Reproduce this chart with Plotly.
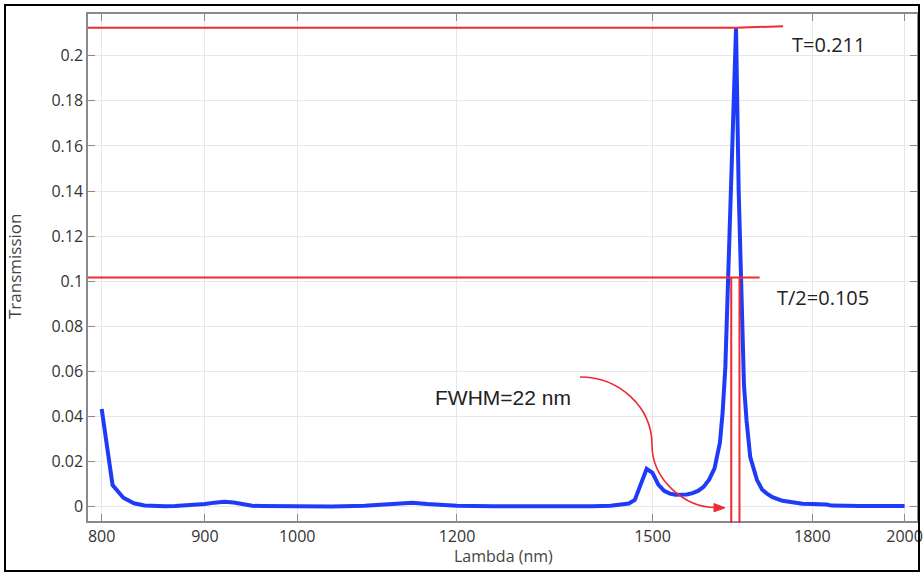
import math
import plotly.graph_objects as go

# ---------------- data ----------------
wavelength_nm = [800, 810, 820, 830, 840, 850, 860, 870, 880, 890, 900, 910, 920, 930, 940, 950,
                 960, 980, 1000, 1040, 1080, 1100, 1120, 1140, 1160, 1180, 1200, 1250, 1300, 1350,
                 1400, 1430, 1450, 1460, 1470, 1480, 1490, 1500, 1510, 1520, 1530, 1540, 1550,
                 1560, 1570, 1580, 1590, 1600, 1610, 1620, 1625, 1630, 1635, 1640, 1645, 1650,
                 1655, 1660, 1665, 1670, 1677, 1690, 1700, 1710, 1720, 1740, 1760, 1780, 1800,
                 1820, 1830, 1840, 1860, 1900, 1950, 2000]
transmission = [0.0433, 0.0096, 0.0040, 0.0015, 0.0005, 0.0002, 0.0002, 0.0003, 0.0005, 0.0008,
                0.0012, 0.0018, 0.0022, 0.0019, 0.0010, 0.0004, 0.0003, 0.0002, 0.0001, 0.0001,
                0.0004, 0.0008, 0.0015, 0.0018, 0.0012, 0.0006, 0.0004, 0.0002, 0.0001, 0.0001,
                0.0002, 0.0004, 0.0008, 0.0014, 0.0030, 0.0095, 0.0168, 0.0150, 0.0098, 0.0070,
                0.0058, 0.0053, 0.0052, 0.0054, 0.0060, 0.0070, 0.0088, 0.0120, 0.0170, 0.0285,
                0.0420, 0.0620, 0.1000, 0.1350, 0.1750, 0.2122, 0.1400, 0.0980, 0.0540, 0.0380,
                0.0220, 0.0118, 0.0075, 0.0057, 0.0042, 0.0026, 0.0018, 0.0013, 0.0012, 0.0012,
                0.0010, 0.0005, 0.0003, 0.0003, 0.0003, 0.0003]

x_tick_vals = [800, 900, 1000, 1200, 1500, 1800, 2000]
x_tick_text = ["800", "900", "1000", "1200", "1500", "1800", "2000"]
y_tick_vals = [0, 0.02, 0.04, 0.06, 0.08, 0.1, 0.12, 0.14, 0.16, 0.18, 0.2]
y_tick_text = ["0", "0.02", "0.04", "0.06", "0.08", "0.1", "0.12", "0.14", "0.16", "0.18", "0.2"]

# annotation markers (hand-drawn red guides in the picture)
peak_level = 0.2124
peak_level_end = 0.2131
peak_lambda = 1650
top_line_end = 1741
half_level = 0.1017
half_line_end = 1695
half_left = 1641
half_right = 1656.5

# ---------------- geometry ----------------
W, H = 924, 572
ML, MR, MT, MB = 88, 7, 14, 51
PW, PH = W - ML - MR, H - MT - MB
X_RANGE = [math.log10(787.6), math.log10(2028.5)]
Y_RANGE = [-0.00634, 0.2185]


def xp(lam):
    return (math.log10(lam) - X_RANGE[0]) / (X_RANGE[1] - X_RANGE[0])


def yp(v):
    return (v - Y_RANGE[0]) / (Y_RANGE[1] - Y_RANGE[0])


def px(x):
    return (x - ML) / PW


def py(y):
    return (H - MB - y) / PH


RED = "#ee2a33"
BLUE = "#1e3cf8"
AXC = "#8a8a8a"
FONT = "Open Sans"

fig = go.Figure()
fig.add_trace(go.Scatter(x=wavelength_nm, y=transmission, mode="lines",
                         line=dict(color=BLUE, width=4), showlegend=False,
                         hoverinfo="x+y"))

shapes = []
# outer frame
shapes.append(dict(type="rect", xref="paper", yref="paper",
                   x0=px(5), x1=px(919), y0=py(571), y1=py(5),
                   line=dict(color="black", width=2), fillcolor="rgba(0,0,0,0)", layer="above"))
# top red line (T)
shapes.append(dict(type="line", xref="paper", yref="paper", x0=0, x1=xp(peak_lambda),
                   y0=yp(peak_level), y1=yp(peak_level), line=dict(color=RED, width=2), layer="above"))
shapes.append(dict(type="line", xref="paper", yref="paper", x0=xp(peak_lambda), x1=xp(top_line_end),
                   y0=yp(peak_level), y1=yp(peak_level_end), line=dict(color=RED, width=2), layer="above"))
# half max line
shapes.append(dict(type="line", xref="paper", yref="paper", x0=0, x1=xp(half_line_end),
                   y0=yp(half_level), y1=yp(half_level), line=dict(color=RED, width=2), layer="above"))
# vertical lines at FWHM crossings
for lam in (half_left, half_right):
    shapes.append(dict(type="line", xref="paper", yref="paper", x0=xp(lam), x1=xp(lam),
                       y0=yp(half_level), y1=py(523), line=dict(color=RED, width=2), layer="above"))

# curved arrow (two quarter-ellipse arcs), pixel geometry -> paper
k = 0.5523
pts = [(580, 377), (580 + k * 72, 377), (652, 445 - k * 68), (652, 445),
       (652, 445 + k * 62), (684, 507.5), (716, 507.5)]
P = [(px(a), py(b)) for a, b in pts]
path = "M {0[0]},{0[1]} C {1[0]},{1[1]} {2[0]},{2[1]} {3[0]},{3[1]} C {4[0]},{4[1]} {5[0]},{5[1]} {6[0]},{6[1]}".format(*P)
shapes.append(dict(type="path", xref="paper", yref="paper", path=path,
                   line=dict(color=RED, width=1.6), layer="above"))
tri = [(725, 507.8), (714, 503.6), (714, 511.8)]
T = [(px(a), py(b)) for a, b in tri]
shapes.append(dict(type="path", xref="paper", yref="paper",
                   path="M {0[0]},{0[1]} L {1[0]},{1[1]} L {2[0]},{2[1]} Z".format(*T),
                   fillcolor=RED, line=dict(color=RED, width=1), layer="above"))

annotations = [
    dict(text="T=0.211", xref="paper", yref="paper", x=px(790), y=py(45), xanchor="left",
         yanchor="middle", showarrow=False, font=dict(family=FONT, size=20, color="#222")),
    dict(text="T/2=0.105", xref="paper", yref="paper", x=px(775), y=py(297), xanchor="left",
         yanchor="middle", showarrow=False, font=dict(family=FONT, size=20, color="#222")),
    dict(text="FWHM=22 nm", xref="paper", yref="paper", x=px(433), y=py(397), xanchor="left",
         yanchor="middle", showarrow=False, font=dict(family="Liberation Sans", size=21, color="#222")),
    dict(text="Lambda (nm)", xref="paper", yref="paper", x=px(503), y=py(556), xanchor="center",
         yanchor="middle", showarrow=False, font=dict(family=FONT, size=16, color="#444")),
    dict(text="Transmission", xref="paper", yref="paper", x=px(14), y=py(267), xanchor="center",
         yanchor="middle", textangle=-90, showarrow=False,
         font=dict(family=FONT, size=17, color="#444")),
]

axis_common = dict(showline=True, linecolor=AXC, linewidth=1.5, mirror="ticks",
                   ticks="inside", ticklen=7, tickcolor=AXC, tickwidth=1,
                   showgrid=True, gridcolor="#e7e7e7", gridwidth=1, zeroline=False,
                   automargin=False,
                   tickfont=dict(family=FONT, size=16, color="#333"))

fig.update_layout(
    width=W, height=H, margin=dict(l=ML, r=MR, t=MT, b=MB),
    paper_bgcolor="white", plot_bgcolor="white",
    xaxis=dict(type="log", range=X_RANGE, tickvals=x_tick_vals, ticktext=x_tick_text,
               **axis_common),
    yaxis=dict(range=Y_RANGE, tickvals=y_tick_vals, ticktext=y_tick_text,
               **axis_common),
    shapes=shapes, annotations=annotations,
)

fig.write_html("out.html", config={"displayModeBar": False},
               post_script="document.body.style.margin='0';document.body.style.padding='0';"
                           "document.body.style.overflow='hidden';")
